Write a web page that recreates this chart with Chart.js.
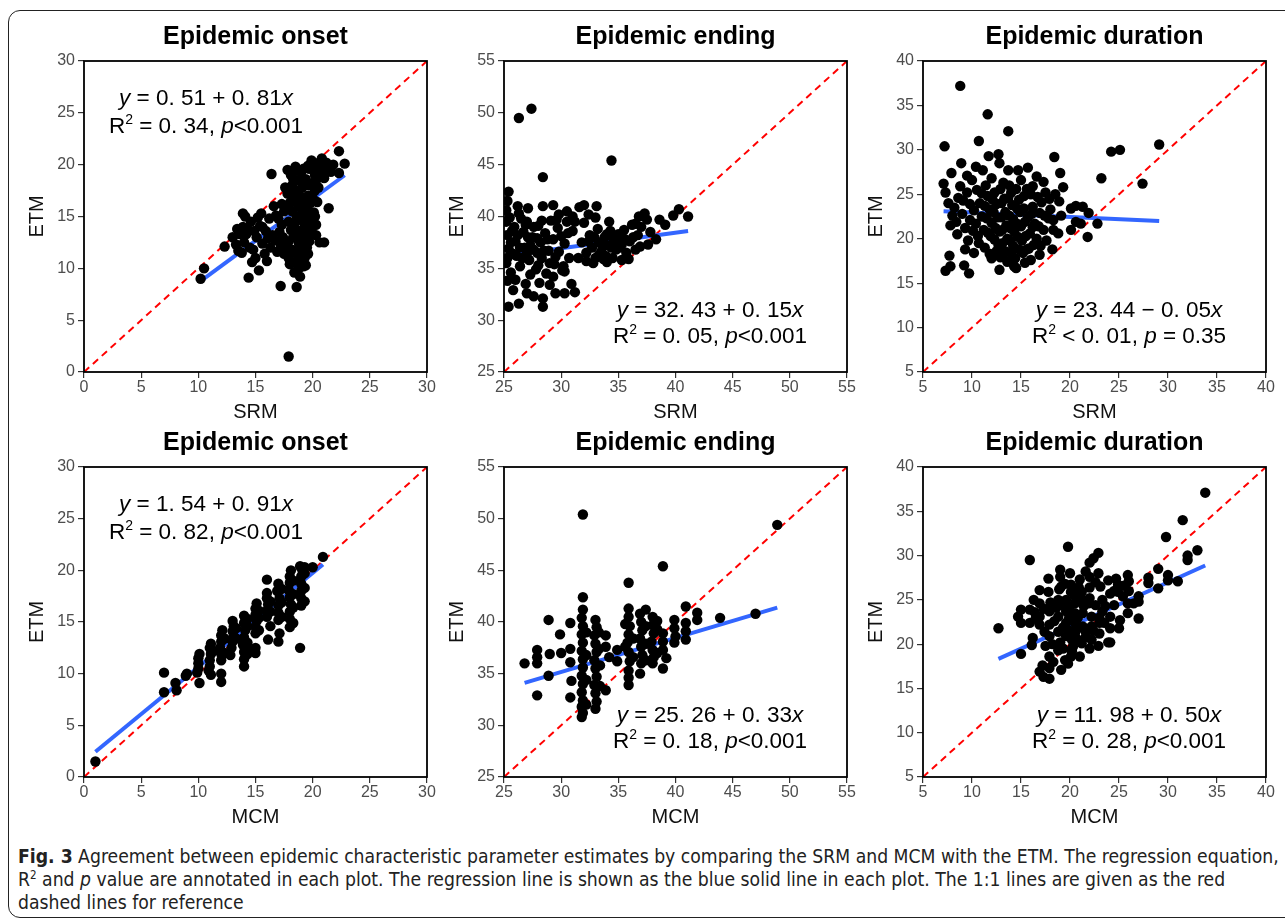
<!DOCTYPE html>
<html>
<head>
<meta charset="utf-8">
<script src="https://cdn.jsdelivr.net/npm/chart.js@4.4.1/dist/chart.umd.min.js"></script>
<style>
  html, body { margin: 0; padding: 0; background: #fff; }
  body { width: 1285px; height: 923px; position: relative; overflow: hidden; }
  canvas { position: absolute; }
  #frame { position: absolute; left: 8px; top: 10px; width: 1300px; height: 908px;
           border: 1.5px solid #222; border-radius: 12px; box-sizing: border-box; }
  .cap { position: absolute; left: 18px; white-space: nowrap; color: #222; line-height: 23px;
         font-family: 'Liberation Sans Narrow', 'DejaVu Sans Condensed', 'Arial Narrow', sans-serif; font-size: 17px; }
  .cap sup { font-size: 0.6em; line-height: 0; vertical-align: 0.6em; }
</style>
</head>
<body>
<div id="frame"></div>
<canvas id="c0" width="442" height="427" style="left:0px;top:0px"></canvas>
<canvas id="c1" width="442" height="427" style="left:420px;top:0px"></canvas>
<canvas id="c2" width="442" height="427" style="left:839px;top:0px"></canvas>
<canvas id="c3" width="442" height="426" style="left:0px;top:406px"></canvas>
<canvas id="c4" width="442" height="426" style="left:420px;top:406px"></canvas>
<canvas id="c5" width="442" height="426" style="left:839px;top:406px"></canvas>

<div class="cap" id="cap1" style="top:845px"><b>Fig. 3</b> Agreement between epidemic characteristic parameter estimates by comparing the SRM and MCM with the ETM. The regression equation,</div>
<div class="cap" id="cap2" style="top:868px">R<sup>2</sup> and <i>p</i> value are annotated in each plot. The regression line is shown as the blue solid line in each plot. The 1:1 lines are given as the red</div>
<div class="cap" id="cap3" style="top:891px">dashed lines for reference</div>

<script>
// Данные: [x, y] для каждой панели (SRM / MCM против ETM)
const srmOnset = [
  [17.9,1.5],[10.2,9.0],[10.5,10.0],[12.3,12.1],[13.9,15.3],[14.4,9.1],[15.3,9.8],[14.7,10.6],[17.2,8.3],[18.6,8.2],
  [16.4,19.1],[21.4,15.8],[22.3,21.3],[22.8,20.1],[22.3,19.2],[20.6,12.5],[21.0,12.5],
  [13.0,13.0],[13.3,12.3],[13.5,11.7],[13.8,11.5],[13.4,13.8],[13.9,14.0],[14.2,13.3],[14.0,12.5],[14.5,12.0],[14.8,11.8],
  [14.6,14.5],[14.9,13.6],[15.2,14.9],[15.4,14.1],[15.1,13.0],[15.6,12.4],[15.8,11.4],[15.5,15.3],[15.9,13.6],[16.2,14.8],
  [16.5,13.2],[16.3,12.0],[16.8,15.1],[16.9,11.6],[17.1,13.5],[17.3,14.2],[17.2,12.3],[17.5,15.5],[16.0,10.7],[15.0,11.0],
  [17.8,17.2],[17.7,15.8],[17.9,14.5],[17.6,12.0],[17.9,11.0],[18.1,19.0],[18.2,18.0],[18.3,16.8],[18.2,15.5],[18.4,14.2],
  [18.3,13.0],[18.2,11.8],[18.5,10.5],[18.4,9.6],[18.6,18.5],[18.7,17.3],[18.8,16.0],[18.7,14.8],[18.9,13.6],[18.8,12.4],
  [18.9,11.2],[18.8,10.0],[19.0,19.3],[19.1,17.8],[19.2,16.5],[19.0,15.2],[19.3,14.0],[19.2,12.8],[19.1,11.5],[19.4,10.3],
  [19.4,18.6],[19.6,17.0],[19.5,15.7],[19.6,13.3],[19.5,12.0],[19.7,19.6],[19.9,18.2],[19.8,16.3],[20.0,14.6],[19.9,13.8],
  [20.1,15.4],[20.2,17.5],[20.3,13.2],[17.3,16.2],[17.5,11.4],[19.2,10.2],
  [20.1,20.2],[20.4,19.7],[20.7,20.3],[20.9,19.5],[21.2,20.2],[21.4,19.8],[20.6,18.9],[21.0,18.7],[20.3,18.5],[19.6,19.9],
  [19.2,19.6],[18.7,19.4],[21.6,19.3],[20.2,15.0],[20.3,14.2],
  [18.5,19.8],[18.4,17.6],[18.5,16.4],[18.6,15.0],[18.5,13.6],[18.6,12.9],[18.6,11.4],[18.7,10.8],[18.9,9.2],[19.0,18.6],
  [19.0,16.9],[19.2,15.8],[19.1,14.6],[19.3,13.4],[19.0,12.1],[19.3,11.0],[19.4,16.0],[19.5,14.6],[19.7,12.6],[19.6,11.4],
  [19.7,18.0],[19.8,15.0],[20.0,16.8],[20.2,19.0],[20.5,17.8],[20.4,16.4],[18.0,16.3],[18.1,13.7],[17.9,12.6],[18.0,10.4],
  [17.4,13.0],[17.0,14.8],[16.7,12.7],[16.1,12.9],[15.6,14.0],[14.3,13.8],[14.1,15.0],[13.6,13.3],[16.6,16.0],[17.6,17.8],
  [18.3,18.6],[17.8,19.5],[19.9,20.4],[20.8,20.6],[21.8,20.0],[21.1,19.2]
];
const srmEnding = [
  [26.3,49.5],[27.4,50.4],[34.4,45.4],[28.4,43.8],[25.4,42.4],
  [25.3,41.5],[26.2,41.0],[26.3,40.3],[27.1,40.8],[28.4,41.0],[29.3,41.1],[29.8,40.2],[30.5,40.5],[31.6,40.9],[32.0,41.1],
  [32.4,40.2],[33.1,41.0],[31.0,40.0],
  [25.2,39.5],[25.3,38.2],[25.4,36.9],[25.2,35.5],[25.6,34.6],[25.9,39.0],[26.0,37.6],[26.1,36.2],[26.4,35.2],[26.7,38.5],
  [26.8,37.0],[27.0,39.5],[27.2,35.8],[27.5,38.0],[27.6,36.8],[27.8,34.9],[28.0,39.1],[28.2,37.5],[28.3,36.0],[28.6,38.4],
  [28.7,34.5],[28.9,36.7],[29.1,39.6],[29.3,37.8],[29.4,35.4],[29.7,38.9],[29.8,36.6],[30.1,34.8],[30.3,37.4],[30.5,39.5],
  [30.7,36.0],[31.0,38.6],[30.2,35.2],[26.5,39.8],[28.0,35.3],
  [25.2,40.6],[25.5,39.9],[25.7,38.6],[25.6,37.5],[25.8,36.4],[25.3,36.0],[26.2,38.2],[26.4,37.0],[26.6,36.0],[26.9,39.2],
  [27.1,38.0],[27.3,37.2],[27.0,36.4],[27.6,39.0],[27.9,37.9],[27.9,36.5],[28.3,39.6],[28.5,36.7],[28.8,37.8],[29.0,35.5],
  [29.5,36.1],[29.6,39.7],[30.0,38.1],[30.6,38.4],[31.2,39.5],[26.9,33.5],[28.1,33.6],[25.3,33.8],
  [25.8,32.9],[25.4,31.3],[26.3,31.6],[27.0,32.6],[27.6,32.3],[28.4,32.1],[28.4,31.3],[29.0,33.4],[29.5,32.6],[30.3,32.6],
  [30.9,33.5],[31.2,32.7],[26.0,33.9],[27.3,34.4],[29.3,34.2],[30.3,34.7],
  [31.8,37.5],[32.2,36.5],[32.5,38.2],[32.7,37.0],[33.0,36.0],[33.2,38.8],[33.3,37.5],[33.5,36.6],[33.8,38.0],[33.9,36.2],
  [34.1,37.2],[34.3,38.6],[34.5,36.0],[34.6,37.8],[34.8,36.8],[35.0,38.3],[35.1,37.0],[35.3,35.8],[35.5,38.7],[35.7,36.5],
  [36.0,37.6],[36.2,39.2],[36.5,36.8],[36.9,37.1],[32.0,39.4],[33.0,39.9],[31.5,36.0],[34.0,35.6],[35.9,35.9],[32.8,35.5],
  [32.4,37.6],[32.9,38.0],[33.3,36.3],[33.6,37.2],[34.0,38.3],[34.4,37.0],[34.9,37.6],[35.3,37.3],[35.6,37.8],[36.3,38.0],
  [33.7,35.9],[36.7,38.2],[37.0,39.0],[34.2,39.5],[32.2,35.7],
  [36.5,39.3],[37.3,40.3],[37.5,39.7],[37.8,38.5],[38.3,37.8],[38.6,39.7],[39.1,39.2],[39.8,40.1],[40.3,40.7],[41.1,40.0],
  [37.6,37.3],[36.8,40.0]
];
const srmDuration = [
  [8.8,37.2],[11.6,34.0],[13.7,32.1],[10.7,31.0],[7.2,30.4],[11.7,29.3],[12.7,29.5],[18.4,29.2],[24.2,29.8],[25.1,30.0],
  [29.1,30.6],[23.2,26.8],[27.4,26.2],[19.0,27.4],[22.8,21.7],[21.8,20.2],[18.2,18.8],[7.3,16.4],[7.8,16.9],[7.7,18.1],
  [9.2,17.0],[9.7,16.1],[9.3,18.8],[7.8,21.5],
  [7.1,26.2],[7.3,25.2],[7.9,27.4],[8.9,28.5],[9.5,27.1],[10.4,28.1],[11.1,27.7],[12.8,28.5],[13.7,27.7],[14.7,27.7],
  [15.7,28.0],[16.6,27.0],[17.3,26.4],[16.2,25.9],[17.9,24.5],[16.7,24.7],[8.8,25.9],
  [7.6,24.0],[8.2,23.5],[8.0,22.6],[8.6,24.6],[9.0,22.8],[9.3,21.2],[9.5,25.2],[9.8,23.9],[10.0,26.6],[10.1,20.9],[8.4,21.9],
  [10.5,25.5],[10.8,24.0],[11.0,22.5],[11.2,21.0],[10.7,19.5],[11.4,26.0],[11.6,24.8],[11.8,23.3],[12.0,21.8],[11.9,20.3],
  [12.3,25.2],[12.5,23.9],[12.6,22.4],[12.8,20.8],[12.7,19.3],[12.9,17.9],[13.2,26.3],[13.3,24.5],[13.4,23.0],[13.5,21.5],
  [13.6,20.0],[13.4,18.6],[13.6,17.4],[14.0,25.2],[14.1,23.8],[14.2,22.2],[14.3,20.8],[14.2,19.2],[14.4,17.8],[14.5,16.7],
  [14.8,24.4],[14.9,23.0],[15.0,21.4],[15.1,19.8],[15.2,18.4],[15.6,25.6],[15.7,22.4],[15.9,20.6],[15.8,18.9],[16.2,23.6],
  [16.4,21.7],[16.6,20.0],[16.9,22.9],[17.1,24.1],[17.3,21.0],[17.6,19.8],[17.8,22.3],[15.4,17.3],[12.8,16.5],[14.3,16.9],
  [12.0,17.8],[16.0,17.6],
  [10.2,23.2],[10.4,21.7],[10.6,20.3],[11.0,25.1],[11.3,23.7],[11.5,22.3],[11.6,20.7],[11.3,19.0],[11.8,18.3],[12.1,24.4],
  [12.2,23.0],[12.4,21.2],[12.3,19.9],[12.5,18.6],[12.9,25.6],[13.0,24.0],[13.0,22.4],[13.1,21.0],[13.1,19.5],[13.1,18.0],
  [13.8,26.0],[13.7,24.6],[13.8,22.6],[13.9,21.2],[13.9,19.8],[14.0,18.3],[14.5,25.6],[14.6,23.4],[14.6,21.7],[14.7,20.2],
  [14.8,18.8],[15.3,24.8],[15.3,23.4],[15.4,21.9],[15.5,20.3],[15.6,18.8],[16.0,25.0],[16.1,22.8],[16.2,21.3],[16.3,19.3],
  [16.8,21.4],[17.0,19.2],[17.4,22.6],[17.5,25.2],[9.8,22.1],[9.1,24.3],[9.6,19.8],[8.5,20.5],[10.2,18.4],[15.0,26.6],
  [12.0,26.8],[16.9,18.2],[18.3,22.1],
  [20.1,23.4],[20.6,23.7],[21.3,23.6],[21.9,22.9],[20.6,21.9],[21.1,21.7],[20.1,21.0],[19.1,22.6],[18.8,20.6],[18.3,21.0],
  [18.9,24.2],[18.5,25.0],[19.3,25.8],[18.0,23.3]
];
const mcmOnset = [
  [1.0,1.5],[7.0,10.1],[7.0,8.2],[8.0,9.1],[8.1,8.4],[9.0,10.0],[10.1,9.1],[11.1,9.9],[12.0,10.0],[12.0,9.2],
  [10.0,10.5],[10.0,11.0],[10.0,11.5],[10.1,11.9],
  [11.0,10.7],[11.0,11.3],[11.1,11.9],[11.0,12.5],[11.1,12.9],
  [12.0,11.3],[12.0,11.9],[11.9,12.5],[12.0,13.1],[12.0,13.7],[12.1,14.2],
  [13.0,13.1],[13.1,13.6],[13.0,14.1],[13.1,14.6],[13.0,15.1],[12.9,12.5],[12.8,11.8],
  [14.0,10.7],[14.0,11.4],[14.0,12.1],[13.9,12.8],[14.0,13.5],[14.1,14.2],[14.0,14.9],[14.0,15.6],[14.3,12.4],[14.3,11.9],
  [15.0,13.9],[15.0,14.5],[15.1,15.1],[15.0,15.7],[15.0,16.3],[15.1,16.8],[15.0,12.5],[15.0,12.0],
  [16.0,15.5],[16.0,16.1],[16.1,16.7],[16.0,17.3],[16.0,17.8],[16.0,19.1],[16.1,13.3],[16.3,14.6],
  [17.0,13.1],[17.1,13.9],[17.0,15.2],[17.0,15.9],[17.0,16.6],[17.1,17.3],[16.9,18.0],[17.0,18.7],
  [18.0,14.5],[18.0,15.3],[18.0,16.0],[18.1,16.7],[18.0,17.4],[17.9,18.1],[18.0,18.8],[18.0,19.4],[18.1,20.0],[18.3,14.9],
  [19.0,16.6],[19.0,17.3],[19.0,18.0],[19.0,18.7],[19.0,19.4],[19.1,20.0],[18.9,20.4],[18.9,12.5],
  [13.3,13.4],[13.3,14.4],[14.3,13.0],[14.3,14.6],[14.3,15.3],[15.3,14.2],[15.3,15.4],[15.3,16.1],[16.3,16.0],[16.3,17.0],
  [17.3,15.5],[17.3,16.9],[17.3,18.2],[18.3,16.4],[18.3,17.7],[18.3,19.0],[19.3,17.0],[19.3,18.3],[19.3,19.7],[19.3,20.3],
  [9.9,10.1],[10.9,10.3],[12.3,12.0],[12.3,13.4],[11.3,12.2],[8.9,9.8],
  [20.0,20.3],[20.9,21.3]
];
const mcmEnding = [
  [31.9,50.4],[48.9,49.4],[38.9,45.4],[35.9,43.8],[31.9,42.4],[28.9,40.2],[26.8,36.0],[27.9,37.3],[27.9,36.6],[27.9,36.0],
  [29.0,36.9],[28.9,34.8],[27.9,32.9],[30.8,39.9],[30.8,37.4],[30.8,36.1],[30.9,34.3],[30.8,32.7],
  [31.9,41.2],[31.8,40.4],[31.9,39.6],[31.8,38.8],[31.9,38.0],[31.8,37.2],[31.9,36.4],[31.9,35.6],[31.8,34.8],[31.9,34.0],
  [31.8,33.2],[31.9,32.4],[31.8,31.8],[31.9,31.2],[31.8,30.8],
  [33.0,40.2],[33.1,39.5],[32.9,38.7],[33.0,37.9],[33.1,37.1],[32.9,36.3],[33.0,35.5],[33.1,34.7],[32.9,33.9],[33.0,33.1],
  [33.1,32.3],[33.0,31.6],[33.3,39.0],[33.3,37.4],
  [33.9,38.7],[33.9,37.6],[33.9,33.4],[34.9,37.3],[34.9,36.2],
  [35.9,41.3],[35.9,40.5],[36.0,39.6],[35.9,38.8],[35.8,38.0],[35.9,37.1],[36.0,36.2],[35.9,35.3],[35.9,34.6],[35.9,33.9],
  [36.9,40.8],[37.0,40.0],[37.1,39.2],[36.9,38.4],[37.0,37.6],[37.1,36.8],[37.0,36.0],[36.9,35.0],[37.4,41.2],
  [38.0,40.5],[38.0,39.7],[38.1,38.9],[37.9,38.1],[38.0,37.3],[38.1,36.6],[38.0,36.0],
  [32.2,39.0],[32.2,36.8],[32.2,34.4],[32.2,32.0],[33.4,35.8],[33.4,33.8],[34.2,36.6],[35.6,39.8],[35.6,37.6],[36.3,38.4],
  [36.3,36.6],[37.4,39.6],[37.4,37.9],[37.4,36.3],[38.4,39.3],[38.4,37.0],[38.4,40.1],[39.2,36.5],[39.9,38.0],[30.0,37.0],
  [29.9,38.8],
  [38.9,38.9],[38.9,37.3],[38.9,35.5],[38.9,38.1],[39.9,40.2],[40.0,38.6],[39.9,39.4],[40.9,41.5],[40.9,39.9],[40.9,38.3],
  [40.9,39.1],[41.9,40.9],[41.9,40.2],[43.9,40.4],[47.0,40.8]
];
const mcmDuration = [
  [33.8,37.1],[31.5,34.0],[29.8,32.1],[33.0,30.6],[32.0,30.0],[32.0,29.5],[19.8,31.0],[15.9,29.5],[22.9,30.3],[22.0,29.2],
  [12.7,21.8],[15.0,18.9],
  [29.0,28.5],[30.0,27.8],[30.0,27.2],[31.0,27.1],[29.0,26.3],[28.0,27.5],[28.0,26.9],[27.0,25.4],[27.0,24.8],[27.0,22.9],
  [25.9,27.8],[26.0,27.1],[24.9,26.7],[24.9,25.9],[25.4,25.4],[25.9,24.6],[25.9,23.5],[25.1,22.7],[25.0,21.8],[23.9,27.2],
  [24.1,25.7],
  [16.9,16.9],[17.3,16.3],[17.9,16.1],[17.9,17.3],[17.9,18.6],[18.8,19.3],[19.1,17.1],[19.8,17.8],[20.1,18.6],[21.0,18.6],
  [21.2,20.1],[22.0,19.5],[22.9,19.8],[23.9,20.2],
  [15.0,23.9],[15.0,22.4],[15.9,23.9],[15.9,22.4],[16.2,20.7],[16.1,19.9],[16.9,24.6],[16.9,23.1],[16.9,22.2],[17.9,22.2],
  [17.9,23.7],[17.8,25.9],[19.0,28.4],[19.0,27.6],[19.1,26.5],[20.0,28.0],[20.1,26.7],[20.1,25.9],[21.2,25.9],[21.2,25.0],
  [22.0,25.2],[22.0,27.6],[22.9,28.0],[23.1,26.5],[23.3,25.0],[23.3,23.7],[24.1,23.1],[24.1,21.8],[24.1,20.2],[23.0,21.2],
  [23.0,22.4],[22.2,23.1],[22.2,22.0],[22.2,20.5],[21.3,23.5],[21.3,22.0],[20.5,24.6],[20.5,23.5],[20.5,22.4],[20.5,21.2],
  [19.6,25.0],[19.6,23.7],[19.6,22.4],[19.6,20.9],[18.8,25.0],[18.8,23.1],[18.8,21.4],[17.9,20.9],[14.7,23.1],
  [17.8,27.4],[16.9,26.1],[19.5,18.2],[20.3,19.7],[20.8,20.5],[19.3,19.5],[20.0,21.5],
  [16.3,25.0],[16.5,22.9],[17.3,24.0],[17.4,21.4],[17.5,19.8],[18.0,24.7],[18.2,20.0],[18.4,22.6],[18.6,24.1],[18.9,26.2],
  [19.0,20.2],[19.3,21.9],[19.3,24.4],[19.5,26.8],[19.9,22.9],[19.9,24.1],[20.2,20.5],[20.2,19.2],[20.5,25.4],[20.8,23.0],
  [20.8,21.8],[20.9,26.4],[21.0,27.3],[21.4,24.3],[21.6,21.4],[21.6,20.8],[21.9,24.6],[22.0,26.4],[22.4,21.5],[22.6,24.4],
  [22.6,27.0],[23.0,23.0],[23.6,24.3],[23.5,22.4],[24.5,24.4],[24.5,26.0],[18.3,18.0],[17.2,17.6],[16.4,23.6],[21.6,28.2],
  [22.4,29.7],[24.7,27.4],[25.5,26.6],[26.0,26.0],[26.5,24.6]
];

const panelTitles = ['Epidemic onset', 'Epidemic ending', 'Epidemic duration', 'Epidemic onset', 'Epidemic ending', 'Epidemic duration'];
const xTitles = ['SRM', 'SRM', 'SRM', 'MCM', 'MCM', 'MCM'];
const axisMin = [0, 25, 5, 0, 25, 5];
const axisMax = [30, 55, 40, 30, 55, 40];
const regIntercept = [0.51, 32.43, 23.44, 1.54, 25.26, 11.98];
const regSlope = [0.81, 0.15, -0.05, 0.91, 0.33, 0.50];
// * = курсив, ^ = верхний индекс
const eqLines = ['*y* = 0. 51 + 0. 81*x*', '*y* = 32. 43 + 0. 15*x*', '*y* = 23. 44 \u2212 0. 05*x*',
                 '*y* = 1. 54 + 0. 91*x*', '*y* = 25. 26 + 0. 33*x*', '*y* = 11. 98 + 0. 50*x*'];
const fitLines = ['R^2 = 0. 34, *p*<0.001', 'R^2 = 0. 05, *p*<0.001', 'R^2 < 0. 01, *p* = 0.35',
                  'R^2 = 0. 82, *p*<0.001', 'R^2 = 0. 18, *p*<0.001', 'R^2 = 0. 28, *p*<0.001'];
const annoCorner = ['tl', 'br', 'br', 'tl', 'br', 'br'];

const FONT = '"Liberation Sans", Arial, Helvetica, sans-serif';
Chart.defaults.font.family = FONT;

function drawRich(ctx, text, cx, y, size) {
    const segs = [];
    let italic = false;
    for (let i = 0; i < text.length; i++) {
        const ch = text[i];
        if (ch === '*') { italic = !italic; continue; }
        if (ch === '^') { segs.push({ t: text[i + 1], sup: true, it: italic }); i++; continue; }
        const last = segs[segs.length - 1];
        if (last && !last.sup && last.it === italic) last.t += ch;
        else segs.push({ t: ch, it: italic, sup: false });
    }
    const font = s => (s.it ? 'italic ' : '') + (s.sup ? Math.round(size * 0.6) : size) + 'px ' + FONT;
    let w = 0;
    segs.forEach(s => { ctx.font = font(s); s.w = ctx.measureText(s.t).width; w += s.w; });
    let x = cx - w / 2;
    ctx.textAlign = 'left';
    ctx.textBaseline = 'alphabetic';
    ctx.fillStyle = '#000';
    segs.forEach(s => {
        ctx.font = font(s);
        ctx.fillText(s.t, x, s.sup ? y - size * 0.42 : y);
        x += s.w;
    });
}

// рамка панели и подписи с уравнением
const panelDecor = {
    id: 'anno',
    afterDraw(chart, args, opts) {
        const { ctx, chartArea: a } = chart;
        ctx.save();
        ctx.strokeStyle = '#000';
        ctx.lineWidth = 1.8;
        ctx.strokeRect(a.left, a.top, a.right - a.left, a.bottom - a.top);
        if (opts.corner === 'tl') {
            drawRich(ctx, opts.lines[0], a.left + 122, a.top + 44, 22.5);
            drawRich(ctx, opts.lines[1], a.left + 122, a.top + 72, 22.5);
        } else {
            drawRich(ctx, opts.lines[0], a.left + 206, a.bottom - 55, 22.5);
            drawRich(ctx, opts.lines[1], a.left + 206, a.bottom - 29, 22.5);
        }
        ctx.restore();
    }
};
Chart.register(panelDecor);

const series = [srmOnset, srmEnding, srmDuration, mcmOnset, mcmEnding, mcmDuration];

series.forEach((pts, i) => {
    const xs = pts.map(p => p[0]);
    const x0 = Math.min(...xs), x1 = Math.max(...xs);
    new Chart(document.getElementById('c' + i), {
        type: 'scatter',
        data: {
            datasets: [{
                data: pts.map(p => ({ x: p[0], y: p[1] })),
                backgroundColor: '#000',
                borderWidth: 0,
                pointRadius: 5.2,
                order: 0
            }, {
                data: [{ x: x0, y: regIntercept[i] + regSlope[i] * x0 }, { x: x1, y: regIntercept[i] + regSlope[i] * x1 }],
                showLine: true,
                borderColor: '#3366ff',
                borderWidth: 4,
                pointRadius: 0,
                order: 1
            }, {
                data: [{ x: axisMin[i], y: axisMin[i] }, { x: axisMax[i], y: axisMax[i] }],
                showLine: true,
                borderColor: '#ff0000',
                borderWidth: 2,
                borderDash: [7, 5],
                pointRadius: 0,
                order: 2
            }]
        },
        options: {
            responsive: false,
            animation: false,
            events: [],
            layout: { padding: { left: 0, right: 15, top: 0, bottom: 0 } },
            plugins: {
                legend: { display: false },
                tooltip: { enabled: false },
                title: {
                    display: true,
                    text: panelTitles[i],
                    fullSize: false,
                    color: '#000',
                    font: { size: 25, weight: 'bold' },
                    padding: { top: 22, bottom: 9 }
                },
                anno: { corner: annoCorner[i], lines: [eqLines[i], fitLines[i]] }
            },
            scales: {
                x: {
                    type: 'linear',
                    min: axisMin[i],
                    max: axisMax[i],
                    afterFit: s => { s.height = 55; s.paddingLeft = 0; s.paddingRight = 0; },
                    ticks: { stepSize: 5, autoSkip: false, maxRotation: 0, color: '#4d4d4d', font: { size: 16 }, padding: 0 },
                    grid: { drawOnChartArea: false, tickLength: 6, color: '#333', lineWidth: 1.2 },
                    border: { display: false },
                    title: { display: true, text: xTitles[i], color: '#111', font: { size: 20 }, padding: { top: 0, bottom: 3 } }
                },
                y: {
                    type: 'linear',
                    min: axisMin[i],
                    max: axisMax[i],
                    afterFit: s => { s.width = 84; s.paddingTop = 0; s.paddingBottom = 0; },
                    ticks: { stepSize: 5, autoSkip: false, color: '#4d4d4d', font: { size: 16 }, padding: 3 },
                    grid: { drawOnChartArea: false, tickLength: 6, color: '#333', lineWidth: 1.2 },
                    border: { display: false },
                    title: { display: true, text: 'ETM', color: '#111', font: { size: 20 }, padding: { top: 25, bottom: 0 } }
                }
            }
        }
    });
});

// подгонка подписи по ширине первой строки
const cap1 = document.getElementById('cap1');
const w1 = cap1.getBoundingClientRect().width;
const fs = 17 * 1262 / w1;
document.querySelectorAll('.cap').forEach(el => { el.style.fontSize = fs + 'px'; });
</script>
</body>
</html>
